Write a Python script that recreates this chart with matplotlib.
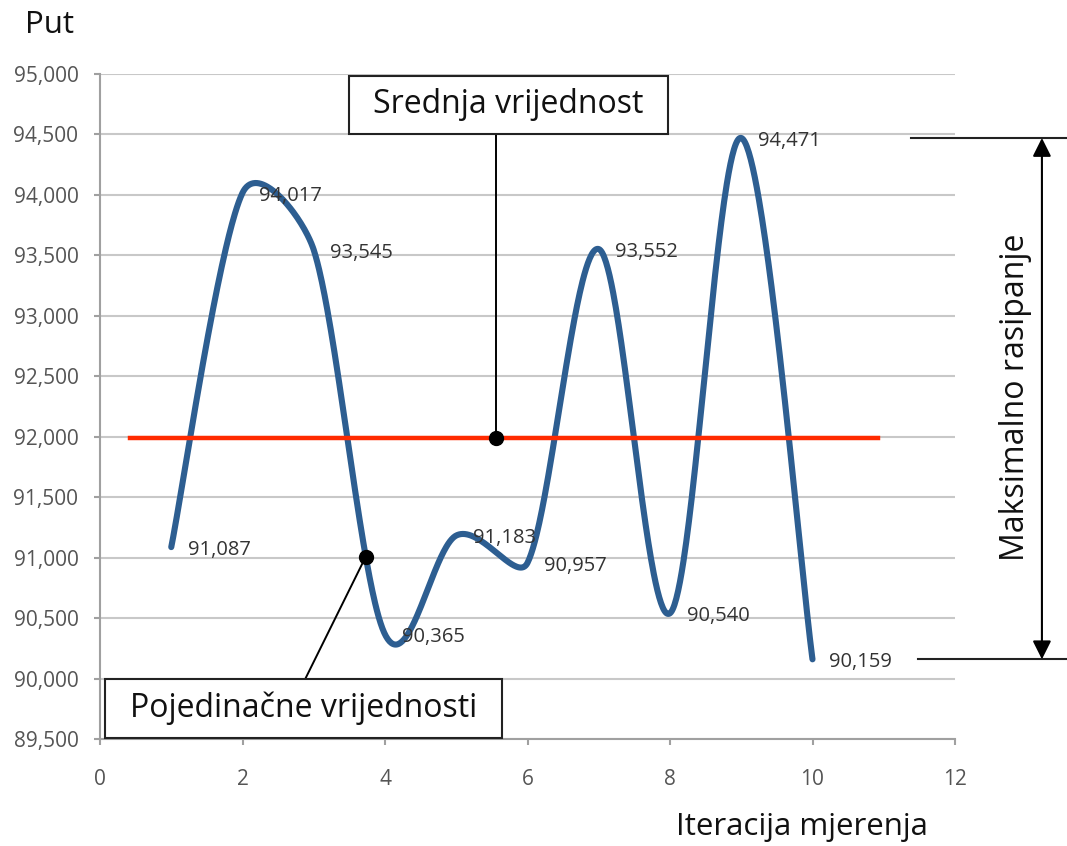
import numpy as np
import matplotlib
matplotlib.use("Agg")
import matplotlib.pyplot as plt
from matplotlib.patches import Rectangle
from matplotlib.ticker import FuncFormatter, MultipleLocator

plt.rcParams['font.family'] = ['Open Sans', 'DejaVu Sans']

# measurement data
iterations = [1, 2, 3, 4, 5, 6, 7, 8, 9, 10]
values = [91087, 94017, 93545, 90365, 91183, 90957, 93552, 90540, 94471, 90159]
value_labels = ["91,087", "94,017", "93,545", "90,365", "91,183",
                "90,957", "93,552", "90,540", "94,471", "90,159"]

mean_value = float(np.mean(values))
v_max = max(values)
v_min = min(values)


def smooth_curve(xs, ys, scale, n=80):
    """Spreadsheet-style smoothed line: cubic Bezier segments whose control
    points follow the neighbouring chord, limited to half the segment length
    (distances measured in the scaled space given by ``scale``)."""
    p = np.column_stack([xs, ys]).astype(float)
    sc = np.asarray(scale, dtype=float)

    def dist(a, b):
        return float(np.hypot(*((a - b) * sc)))

    out = []
    for i in range(len(p) - 1):
        p1, p2 = p[i], p[i + 1]
        p0 = p[i - 1] if i > 0 else p1
        p3 = p[i + 2] if i + 2 < len(p) else p2
        d12, d02, d13 = dist(p1, p2), dist(p0, p2), dist(p1, p3)
        f1 = 1 / 6 if d02 / 6 < d12 / 2 else d12 / (2 * d02)
        f2 = 1 / 6 if d13 / 6 < d12 / 2 else d12 / (2 * d13)
        c1 = p1 + (p2 - p0) * f1
        c2 = p2 - (p3 - p1) * f2
        t = np.linspace(0, 1, n)[:, None]
        seg = ((1 - t) ** 3) * p1 + 3 * ((1 - t) ** 2) * t * c1 \
            + 3 * (1 - t) * t ** 2 * c2 + t ** 3 * p2
        out.append(seg if i == 0 else seg[1:])
    s = np.vstack(out)
    return s[:, 0], s[:, 1]


W, H = 1067, 846
fig = plt.figure(figsize=(W / 100, H / 100), dpi=100)
fig.patch.set_facecolor('white')
ax = fig.add_axes([100 / W, (H - 739) / H, 855 / W, 665 / H])

x_lo, x_hi = 0, 12
y_lo, y_hi = 89500, 95000
ax.set_xlim(x_lo, x_hi)
ax.set_ylim(y_lo, y_hi)
ax.xaxis.set_major_locator(MultipleLocator(2))
ax.yaxis.set_major_locator(MultipleLocator(500))
ax.yaxis.set_major_formatter(FuncFormatter(lambda v, p: f"{int(v):,}"))

grey = '#a0a0a0'
for side in ('top', 'right'):
    ax.spines[side].set_visible(False)
for side in ('left', 'bottom'):
    ax.spines[side].set_color(grey)
    ax.spines[side].set_linewidth(1.5)
ax.grid(axis='y', color='#c8c8c8', linewidth=1.5)
ax.set_axisbelow(True)
ax.tick_params(axis='both', direction='out', length=4.5, width=1.5,
               color=grey, labelcolor='#555555', labelsize=15)
ax.tick_params(axis='y', pad=11)
ax.tick_params(axis='x', pad=17)

# smoothed measurement curve (distances taken in a taller chart space)
bbox = ax.get_window_extent()
scale = (bbox.width / (x_hi - x_lo), 2.0 * bbox.height / (y_hi - y_lo))
sx, sy = smooth_curve(iterations, values, scale)
ax.plot(sx, sy, color='#2d5e91', linewidth=4.4, solid_capstyle='round',
        zorder=3)

for xi, yi, lab in zip(iterations, values, value_labels):
    ax.annotate(lab, (xi, yi), xytext=(12, -2), textcoords='offset points',
                ha='left', va='center', fontsize=14.5, color='#333333',
                zorder=4)

# mean line
ax.plot([0.42, 10.92], [mean_value, mean_value], color='#ff2a00',
        linewidth=3.2, zorder=3)

# callout: mean value
mean_dot_x = 5.56
box1 = (3.49, 94504, 4.48, 480)
ax.plot([mean_dot_x, mean_dot_x], [mean_value, box1[1]], color='black',
        linewidth=1.4, zorder=5)
ax.plot(mean_dot_x, mean_value, 'o', color='black', markersize=10, zorder=6)
ax.add_patch(Rectangle(box1[:2], box1[2], box1[3], facecolor='white',
                       edgecolor='#222222', linewidth=1.5, zorder=7,
                       clip_on=False))
ax.text(box1[0] + box1[2] / 2, box1[1] + box1[3] / 2, 'Srednja vrijednost',
        ha='center', va='center', fontsize=23, color='#111111', zorder=8)

# callout: single values
curve_dot_x = 3.73
curve_dot_y = float(np.interp(curve_dot_x, sx, sy))
box2 = (0.07, 89508, 5.57, 488)
ax.plot([curve_dot_x, 2.88], [curve_dot_y, box2[1] + box2[3]],
        color='black', linewidth=1.4, zorder=5)
ax.plot(curve_dot_x, curve_dot_y, 'o', color='black', markersize=10,
        zorder=6)
ax.add_patch(Rectangle(box2[:2], box2[2], box2[3], facecolor='white',
                       edgecolor='#222222', linewidth=1.5, zorder=7,
                       clip_on=False))
ax.text(box2[0] + box2[2] / 2, box2[1] + box2[3] / 2,
        'Pojedinačne vrijednosti', ha='center', va='center', fontsize=23,
        color='#111111', zorder=8)

# maximum spread marker
ax.plot([11.38, 14.5], [v_max, v_max], color='#222222', linewidth=1.5,
        clip_on=False, zorder=5)
ax.plot([11.48, 14.5], [v_min, v_min], color='#222222', linewidth=1.5,
        clip_on=False, zorder=5)
ax.annotate('', xy=(13.22, v_max), xytext=(13.22, v_min),
            arrowprops=dict(arrowstyle='<|-|>', color='black', lw=1.5,
                            mutation_scale=28, shrinkA=0, shrinkB=0),
            annotation_clip=False)
fig.text(1016 / W, 1 - 397 / H, 'Maksimalno rasipanje', rotation=90,
         ha='center', va='center', fontsize=23, color='#111111')

# axis titles
fig.text(25 / W, 1 - 25 / H, 'Put', ha='left', va='center', fontsize=22.5,
         color='#111111')
fig.text(802 / W, 1 - 827 / H, 'Iteracija mjerenja', ha='center',
         va='center', fontsize=22.5, color='#111111')

fig.savefig('out.png', dpi=100, facecolor='white')
